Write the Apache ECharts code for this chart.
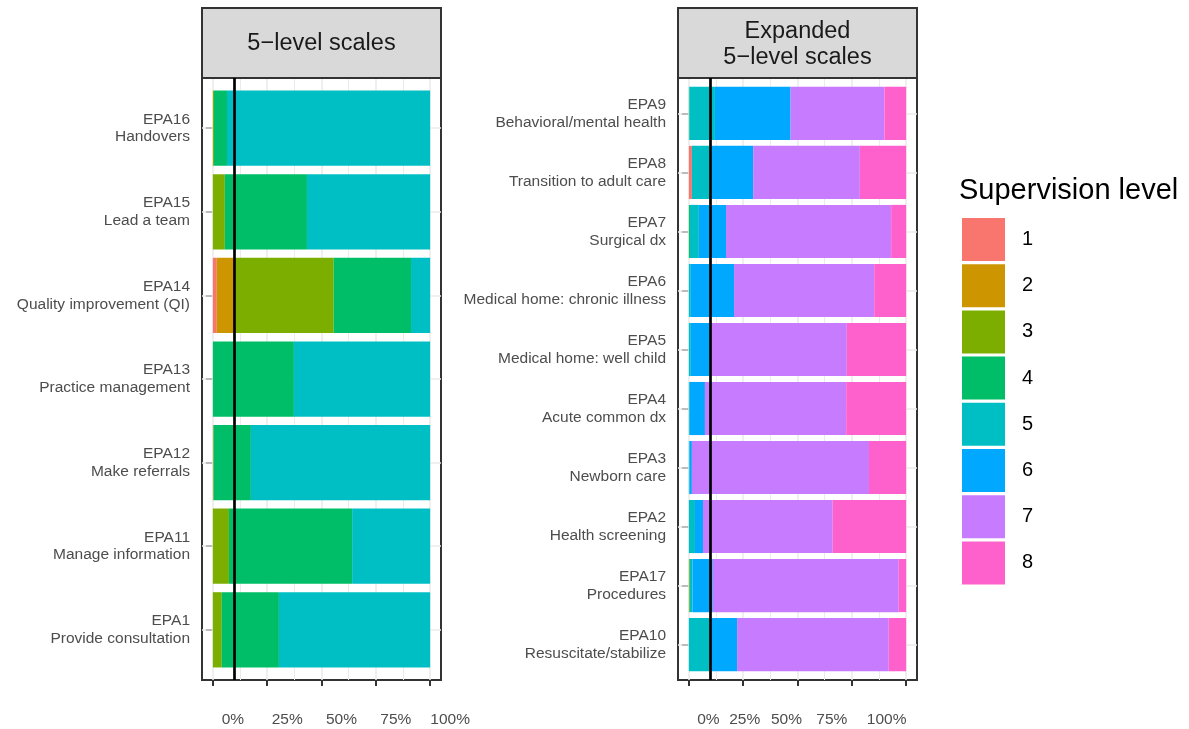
<!DOCTYPE html>
<html>
<head>
<meta charset="utf-8">
<script src="https://cdn.jsdelivr.net/npm/echarts@6.0.0/dist/echarts.min.js"></script>
<style>
html,body{margin:0;padding:0;background:#fff;}
#chart{width:1189px;height:729px;}
</style>
</head>
<body>
<div id="chart"></div>
<script>
// ---------- data ----------
const levels = ['1','2','3','4','5','6','7','8'];
const levelColors = ['#F8766D','#CD9600','#7CAE00','#00BE67','#00BFC4','#00A9FF','#C77CFF','#FF61CC'];

const leftTitle = '5\u2212level scales';
const rightTitle = 'Expanded\n5\u2212level scales';
const legendTitle = 'Supervision level';

const leftCategories = [
  'EPA16\nHandovers',
  'EPA15\nLead a team',
  'EPA14\nQuality improvement (QI)',
  'EPA13\nPractice management',
  'EPA12\nMake referrals',
  'EPA11\nManage information',
  'EPA1\nProvide consultation'
];
// one array per supervision level (1..5), values in percent, order = leftCategories
const leftL1 = [0, 0, 1.8, 0, 0, 0, 0];
const leftL2 = [0, 0, 8.8, 0, 0.3, 0, 0];
const leftL3 = [0.5, 5.5, 45.0, 0, 0, 7.4, 4.1];
const leftL4 = [6.0, 37.8, 35.6, 37.3, 17.2, 56.7, 26.3];
const leftL5 = [93.5, 56.7, 8.8, 62.7, 82.5, 35.9, 69.6];

const rightCategories = [
  'EPA9\nBehavioral/mental health',
  'EPA8\nTransition to adult care',
  'EPA7\nSurgical dx',
  'EPA6\nMedical home: chronic illness',
  'EPA5\nMedical home: well child',
  'EPA4\nAcute common dx',
  'EPA3\nNewborn care',
  'EPA2\nHealth screening',
  'EPA17\nProcedures',
  'EPA10\nResuscitate/stabilize'
];
const rightL1 = [0, 1.4, 0, 0, 0, 0, 0, 0, 0, 0];
const rightL2 = [0, 0, 0, 0, 0, 0, 0, 0, 0, 0];
const rightL3 = [0, 0, 0, 0, 0, 0, 0, 0, 0.4, 0];
const rightL4 = [0.3, 0, 0.5, 0, 0, 0, 0, 0, 0, 0];
const rightL5 = [11.7, 9.1, 4.1, 0.9, 0.9, 0.4, 0.3, 2.8, 1.3, 10.0];
const rightL6 = [34.8, 19.1, 12.5, 19.9, 9.3, 7.0, 1.1, 3.7, 9.3, 12.2];
const rightL7 = [43.2, 49.1, 76.0, 64.5, 62.5, 65.0, 81.5, 59.7, 85.6, 69.8];
const rightL8 = [10.0, 21.3, 6.9, 14.7, 27.3, 27.6, 17.1, 33.8, 3.4, 8.0];

const xTicks = [0, 25, 50, 75, 100];
const xGridValues = [0, 12.5, 25, 37.5, 50, 62.5, 75, 87.5, 100];
const refLine = 10;

const leftSeriesData = [leftL1, leftL2, leftL3, leftL4, leftL5];
const rightSeriesData = [rightL1, rightL2, rightL3, rightL4, rightL5, rightL6, rightL7, rightL8];

// ---------- layout ----------
const FONT = 'Liberation Sans, Arial, Helvetica, sans-serif';
const panelTop = 78, panelH = 602, panelW = 239;
const leftX = 202, rightX = 678;
function dataGrid(x, n) {
  const band = panelH / (n + 0.2);
  return { left: x, width: panelW, top: panelTop + 0.1 * band, height: band * n };
}

// label offsets (rich padding) to mimic reference placement
const leftLabelRich = { p: { padding: [0, 0, 0, 40], fontSize: 15.5, color: '#4d4d4d', fontFamily: FONT } };
const rightPad = { 0: [0,0,0,39], 25: [0,0,0,3], 50: [0,22,0,0], 75: [0,40,0,0], 100: [0,39,0,0] };
const rightLabelRich = {};
xTicks.forEach(v => { rightLabelRich['r' + v] = { padding: rightPad[v], fontSize: 15.5, color: '#4d4d4d', fontFamily: FONT }; });

function frameXAxis(grid, rich, fmt) {
  return {
    type: 'value', gridIndex: grid, min: -5, max: 105,
    axisLine: { show: false },
    splitLine: { show: false },
    axisTick: { show: true, customValues: xTicks, length: 6, lineStyle: { color: '#333', width: 2 } },
    axisLabel: { show: true, customValues: xTicks, margin: 32, formatter: fmt, rich: rich, fontSize: 15.5, color: '#4d4d4d', fontFamily: FONT }
  };
}
function hiddenValueAxis(grid, min, max) {
  return { type: 'value', gridIndex: grid, min: min, max: max, show: false, splitLine: { show: false } };
}
function catYAxis(grid, cats) {
  return {
    type: 'category', gridIndex: grid, data: cats, inverse: true,
    axisLine: { show: false },
    axisTick: { show: true, alignWithLabel: true, length: 7, lineStyle: { color: '#333', width: 2 } },
    axisLabel: { margin: 12, fontSize: 15.5, lineHeight: 17.7, color: '#4d4d4d', fontFamily: FONT, align: 'right' },
    splitLine: { show: false }
  };
}

function vGridSeries(xi, yi) {
  return {
    type: 'line', xAxisIndex: xi, yAxisIndex: yi, data: [], z: 1, silent: true,
    markLine: {
      z: 1, silent: true, symbol: 'none', label: { show: false }, animation: false,
      data: xGridValues.map(v => ({ xAxis: v, lineStyle: { color: '#ebebeb', width: (v % 25 === 0) ? 1.6 : 1, type: 'solid' } }))
    }
  };
}
function hGridSeries(xi, yi, cats) {
  return {
    type: 'line', xAxisIndex: xi, yAxisIndex: yi, data: [], z: 1, silent: true,
    markLine: {
      z: 1, silent: true, symbol: 'none', label: { show: false }, animation: false,
      lineStyle: { color: '#ebebeb', width: 1.6, type: 'solid' },
      data: cats.map(c => ({ yAxis: c }))
    }
  };
}
function refSeries(xi, yi) {
  return {
    type: 'line', xAxisIndex: xi, yAxisIndex: yi, data: [], z: 10, silent: true,
    markLine: {
      z: 10, silent: true, symbol: 'none', label: { show: false }, animation: false,
      lineStyle: { color: '#000', width: 2.7, type: 'solid' },
      data: [{ xAxis: refLine }]
    }
  };
}

const series = [];
series.push(vGridSeries(0, 0));
series.push(vGridSeries(2, 2));
series.push(hGridSeries(1, 1, leftCategories));
series.push(hGridSeries(3, 3, rightCategories));
leftSeriesData.forEach((arr, i) => {
  series.push({
    name: levels[i], type: 'bar', stack: 'left', xAxisIndex: 1, yAxisIndex: 1,
    data: arr, barCategoryGap: '10%', z: 3,
    itemStyle: { color: levelColors[i] }, emphasis: { disabled: true }
  });
});
rightSeriesData.forEach((arr, i) => {
  series.push({
    name: levels[i], type: 'bar', stack: 'right', xAxisIndex: 3, yAxisIndex: 3,
    data: arr, barCategoryGap: '10%', z: 3,
    itemStyle: { color: levelColors[i] }, emphasis: { disabled: true }
  });
});
series.push(refSeries(0, 0));
series.push(refSeries(2, 2));

const stripStyle = { fill: '#d9d9d9', stroke: '#333', lineWidth: 2 };
const option = {
  animation: false,
  backgroundColor: '#fff',
  title: {
    text: legendTitle, left: 959, top: 176, padding: 0,
    textStyle: { fontSize: 29, fontWeight: 'normal', color: '#000', fontFamily: FONT }
  },
  legend: {
    data: levels, orient: 'vertical', left: 962, top: 218, padding: 0,
    itemWidth: 43, itemHeight: 43, itemGap: 3.2, icon: 'rect',
    selectedMode: false,
    textStyle: { fontSize: 20, color: '#000', fontFamily: FONT, padding: [0, 0, 0, 12] }
  },
  grid: [
    { left: leftX, top: panelTop, width: panelW, height: panelH, show: true, borderColor: '#333', borderWidth: 2, backgroundColor: '#fff', containLabel: false },
    Object.assign({ show: false, containLabel: false }, dataGrid(leftX, leftCategories.length)),
    { left: rightX, top: panelTop, width: panelW, height: panelH, show: true, borderColor: '#333', borderWidth: 2, backgroundColor: '#fff', containLabel: false },
    Object.assign({ show: false, containLabel: false }, dataGrid(rightX, rightCategories.length))
  ],
  xAxis: [
    frameXAxis(0, leftLabelRich, v => '{p|' + v + '%}'),
    hiddenValueAxis(1, -5, 105),
    frameXAxis(2, rightLabelRich, v => '{r' + v + '|' + v + '%}'),
    hiddenValueAxis(3, -5, 105)
  ],
  yAxis: [
    hiddenValueAxis(0, 0, 1),
    catYAxis(1, leftCategories),
    hiddenValueAxis(2, 0, 1),
    catYAxis(3, rightCategories)
  ],
  series: series,
  graphic: [
    { type: 'rect', shape: { x: leftX, y: 8, width: panelW, height: 70 }, style: stripStyle, z: 5 },
    { type: 'text', x: leftX + panelW / 2, y: 44, style: { text: leftTitle, fontSize: 23.5, fontFamily: FONT, fill: '#1a1a1a', align: 'center', verticalAlign: 'middle' }, z: 6 },
    { type: 'rect', shape: { x: rightX, y: 8, width: panelW, height: 70 }, style: stripStyle, z: 5 },
    { type: 'text', x: rightX + panelW / 2, y: 45, style: { text: rightTitle, fontSize: 23.5, lineHeight: 26, fontFamily: FONT, fill: '#1a1a1a', align: 'center', verticalAlign: 'middle' }, z: 6 }
  ]
};

const chart = echarts.init(document.getElementById('chart'));
chart.setOption(option);
</script>
</body>
</html>
